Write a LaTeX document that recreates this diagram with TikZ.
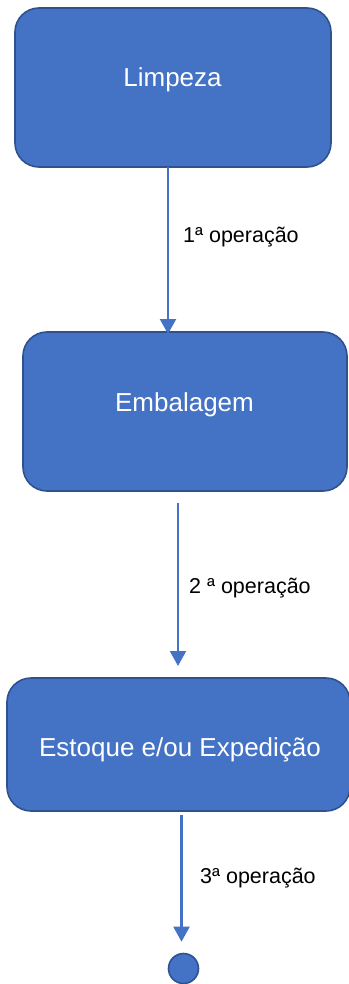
\documentclass[tikz,border=0pt]{standalone}
\usepackage{fontspec}
\setmainfont{Liberation Sans}
\usetikzlibrary{arrows.meta}
\definecolor{boxfill}{HTML}{4472C4}
\definecolor{boxedge}{HTML}{2F528F}
\begin{document}
\begin{tikzpicture}[x=1pt,y=-1pt,
  stagebox/.style={draw=boxedge, fill=boxfill, line width=1.6pt, rounded corners=24pt,
    inner sep=0pt, outer sep=0pt},
  stagetext/.style={text=white, anchor=base, inner sep=0pt, font=\fontsize{26}{30}\selectfont},
  optext/.style={text=black, anchor=base west, inner sep=0pt, font=\fontsize{21.5}{25}\selectfont},
  flow/.style={draw=boxfill, line width=2.1pt, -{Triangle[length=15pt,width=16pt]}},
  endpoint/.style={circle, draw=boxedge, fill=boxfill, line width=1.6pt, inner sep=0pt,
    minimum size=30pt}]
\useasboundingbox (0,0) rectangle (348,984);

% process stages
\node[stagebox, minimum width=316pt, minimum height=159pt] (limp) at (173,87.5) {};
\node[stagetext] (limpT) at (172.5,87) {Limpeza};

\node[stagebox, minimum width=324pt, minimum height=159pt] (emb) at (185,411.5) {};
\node[stagetext] (embT) at (184.5,411) {Embalagem};

\node[stagebox, minimum width=343pt, minimum height=133pt] (est) at (178.5,744.5) {};
\node[stagetext] (estT) at (180,756) {Estoque e/ou Expedição};

\node[endpoint] (fim) at (183.5,968.5) {};

% connector columns
\coordinate (c1) at (168,0);
\coordinate (c2) at (178,0);
\coordinate (c3) at (181.5,0);

\draw[flow] (c1 |- limp.south) -- ([yshift=-2pt]c1 |- emb.north);
\draw[flow] ([yshift=-12pt]c2 |- emb.south) -- ([yshift=12pt]c2 |- est.north);
\draw[flow] ([yshift=-4pt]c3 |- est.south) -- ([yshift=11pt]c3 |- fim.north);

% operation labels
\node[optext] (op1) at (183,243) {1ª operação};
\node[optext] (op2) at (189,593) {2 ª operação};
\node[optext] (op3) at (200,883) {3ª operação};
\end{tikzpicture}
\end{document}
